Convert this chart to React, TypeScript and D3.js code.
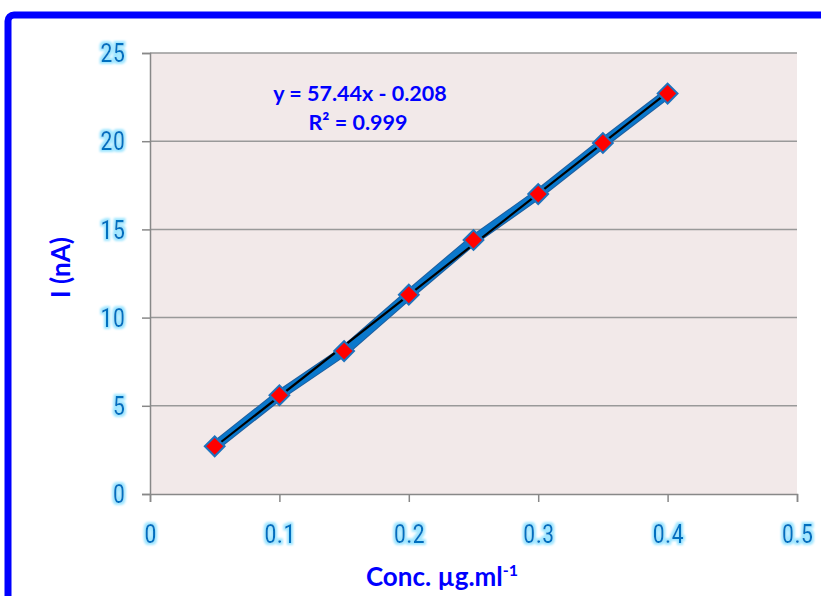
import React, { useEffect, useRef } from 'react';
import * as d3 from 'd3';

const conc = [0.05, 0.1, 0.15, 0.2, 0.25, 0.3, 0.35, 0.4];
const current = [2.7, 5.6, 8.1, 11.3, 14.4, 17.0, 19.9, 22.7];
const xTicks = [0, 0.1, 0.2, 0.3, 0.4, 0.5];
const yTicks = [0, 5, 10, 15, 20, 25];
const slope = 57.44;
const intercept = -0.208;

const App = () => {
  const svgRef = useRef<SVGSVGElement>(null);

  useEffect(() => {
    const svg = d3.select(svgRef.current);
    svg.selectAll('*').remove();

    const width = 821;
    const height = 596;
    const margin = { top: 53, right: 24, bottom: 102, left: 150 };
    const chartWidth = width - margin.left - margin.right;
    const chartHeight = height - margin.top - margin.bottom;

    svg.attr('width', width).attr('height', height);

    const defs = svg.append('defs');
    const glow = defs.append('filter').attr('id', 'glow')
      .attr('x', '-30%').attr('y', '-30%').attr('width', '160%').attr('height', '160%');
    glow.append('feMorphology').attr('in', 'SourceAlpha').attr('operator', 'dilate').attr('radius', 1.5).attr('result', 'd');
    glow.append('feGaussianBlur').attr('in', 'd').attr('stdDeviation', 1.2).attr('result', 'b');
    glow.append('feFlood').attr('flood-color', '#9fe6ff');
    glow.append('feComposite').attr('in2', 'b').attr('operator', 'in').attr('result', 'g');
    const merge = glow.append('feMerge');
    merge.append('feMergeNode').attr('in', 'g');
    merge.append('feMergeNode').attr('in', 'SourceGraphic');

    // outer frame
    svg.append('rect')
      .attr('x', 8).attr('y', 15)
      .attr('width', 860).attr('height', 640)
      .attr('rx', 6)
      .style('fill', 'white')
      .style('stroke', '#0000ff')
      .style('stroke-width', 7);

    const chart = svg.append('g')
      .attr('transform', `translate(${margin.left},${margin.top})`);

    const xScale = d3.scaleLinear().domain([0, 0.5]).range([0, chartWidth]);
    const yScale = d3.scaleLinear().domain([0, 25]).range([chartHeight, 0]);

    chart.append('rect')
      .attr('width', chartWidth).attr('height', chartHeight)
      .style('fill', '#f2e9e9');

    // gridlines
    chart.selectAll('.grid')
      .data(yTicks.filter(d => d > 0))
      .enter()
      .append('line')
      .attr('x1', 0).attr('x2', chartWidth)
      .attr('y1', d => yScale(d)).attr('y2', d => yScale(d))
      .style('stroke', '#999999')
      .style('stroke-width', 1.5);

    // axes
    const xAxis = chart.append('g')
      .attr('transform', `translate(0,${chartHeight})`)
      .call(d3.axisBottom(xScale).tickValues(xTicks).tickSize(8).tickPadding(23).tickFormat(d => String(d)));
    const yAxis = chart.append('g')
      .call(d3.axisLeft(yScale).tickValues(yTicks).tickSize(8).tickPadding(17));

    [xAxis, yAxis].forEach(ax => {
      ax.select('.domain').style('stroke', '#888888').style('stroke-width', 1.5);
      ax.selectAll('.tick line').style('stroke', '#888888').style('stroke-width', 1.5);
      ax.selectAll('text')
        .style('font-family', '"Liberation Sans Narrow", "Arial Narrow", "Roboto Condensed", sans-serif')
        .style('font-size', '25px')
        .style('fill', '#0070c0')
        .attr('filter', 'url(#glow)');
    });
    yAxis.selectAll('text').attr('dy', '0.35em');

    // series line
    const line = d3.line<number>()
      .x((d, i) => xScale(conc[i]))
      .y(d => yScale(d));

    chart.append('path')
      .datum(current)
      .attr('d', line)
      .style('fill', 'none')
      .style('stroke', '#1f5f9f')
      .style('stroke-width', 10)
      .style('stroke-linejoin', 'round');
    chart.append('path')
      .datum(current)
      .attr('d', line)
      .style('fill', 'none')
      .style('stroke', '#0a78cc')
      .style('stroke-width', 8)
      .style('stroke-linejoin', 'round');

    // trendline
    const x0 = conc[0];
    const x1 = conc[conc.length - 1];
    chart.append('line')
      .attr('x1', xScale(x0)).attr('y1', yScale(slope * x0 + intercept))
      .attr('x2', xScale(x1)).attr('y2', yScale(slope * x1 + intercept))
      .style('stroke', '#000000')
      .style('stroke-width', 2.2);

    // markers
    chart.selectAll('.marker')
      .data(current)
      .enter()
      .append('path')
      .attr('class', 'marker')
      .attr('transform', (d, i) => `translate(${xScale(conc[i])},${yScale(d)}) rotate(45)`)
      .attr('d', 'M-7,-7H7V7H-7Z')
      .style('fill', '#ff0000')
      .style('stroke', '#1e73be')
      .style('stroke-width', 2);

    // equation
    const eq = svg.append('text')
      .attr('text-anchor', 'middle')
      .style('font-family', 'Lato, "Open Sans", sans-serif')
      .style('font-weight', 'bold')
      .style('font-size', '21.5px')
      .style('fill', '#0000ff');
    eq.append('tspan').attr('x', 360).attr('y', 101).text(`y = ${slope}x - ${Math.abs(intercept)}`);
    eq.append('tspan').attr('x', 358).attr('y', 130).text('R² = 0.999');

    // axis titles
    svg.append('text')
      .attr('transform', `translate(70,${margin.top + chartHeight / 2 - 6}) rotate(-90)`)
      .attr('text-anchor', 'middle')
      .style('font-family', 'Lato, "Open Sans", sans-serif')
      .style('font-weight', 'bold')
      .style('font-size', '26px')
      .style('fill', '#0000ff')
      .text('I (nA)');

    const xt = svg.append('text')
      .attr('x', 442).attr('y', 586)
      .attr('text-anchor', 'middle')
      .style('font-family', 'Lato, "Open Sans", sans-serif')
      .style('font-weight', 'bold')
      .style('font-size', '26px')
      .style('fill', '#0000ff');
    xt.append('tspan').text('Conc. µg.ml');
    xt.append('tspan').attr('dy', -10).style('font-size', '16px').text('-1');
  }, []);

  return (
    <div style={{ position: 'absolute', left: 0, top: 0 }}>
      <svg ref={svgRef}></svg>
    </div>
  );
};

export default App;
